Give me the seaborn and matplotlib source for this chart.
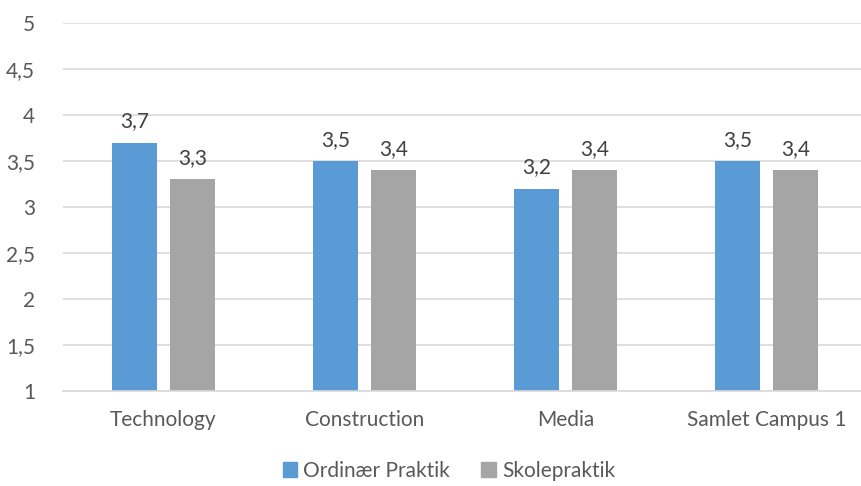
"""Average practice ratings by department (Ordinær Praktik vs Skolepraktik)."""

import matplotlib.pyplot as plt
import pandas as pd
import seaborn as sns

categories = ["Technology", "Construction", "Media", "Samlet Campus 1"]
series_names = ["Ordinær Praktik", "Skolepraktik"]
ordinaer = [3.7, 3.5, 3.2, 3.5]
skole = [3.3, 3.4, 3.4, 3.4]
y_ticks = [1, 1.5, 2, 2.5, 3, 3.5, 4, 4.5, 5]

colors = ["#5B9BD5", "#A5A5A5"]
text_color = "#595959"

sns.set_theme(style="white")
plt.rcParams["font.family"] = ["Lato", "DejaVu Sans"]

df = pd.DataFrame(
    {
        "Category": categories * 2,
        "Series": [series_names[0]] * len(categories) + [series_names[1]] * len(categories),
        "Value": ordinaer + skole,
    }
)

fig = plt.figure(figsize=(8.61, 4.86), dpi=100)
ax = fig.add_axes([0.0732, 0.1955, 0.934, 0.757])

sns.barplot(
    data=df, x="Category", y="Value", hue="Series", order=categories,
    hue_order=series_names, palette=colors, width=0.577, gap=0.224,
    saturation=1, errorbar=None, legend=False, linewidth=0, ax=ax,
)

for container in ax.containers:
    labels = [f"{v:.1f}".replace(".", ",") for v in container.datavalues]
    ax.bar_label(container, labels=labels, padding=8, fontsize=15, color="#404040")

ax.set_ylim(1, 5)
ax.set_xlim(-0.5, 3.5)
ax.set_yticks(y_ticks)
ax.set_yticklabels([f"{t:g}".replace(".", ",") for t in y_ticks])
ax.yaxis.grid(True, color="#D9D9D9", linewidth=1.2)
ax.set_axisbelow(True)
for side in ["top", "right", "left"]:
    ax.spines[side].set_visible(False)
ax.spines["bottom"].set_color("#D9D9D9")
ax.spines["bottom"].set_linewidth(1.2)
ax.tick_params(axis="both", length=0, labelsize=15, labelcolor=text_color)
ax.tick_params(axis="x", pad=14)
ax.tick_params(axis="y", pad=20)
ax.set_xlabel("")
ax.set_ylabel("")

handles = [plt.Rectangle((0, 0), 1, 1, color=c) for c in colors]
fig.legend(
    handles, series_names, loc="center", bbox_to_anchor=(449 / 861, 1 - 471 / 486),
    ncol=2, frameon=False, fontsize=15, labelcolor=text_color,
    handlelength=0.7, handleheight=0.7, handletextpad=0.3, columnspacing=1.5,
)

fig.savefig("out.png", dpi=100)
